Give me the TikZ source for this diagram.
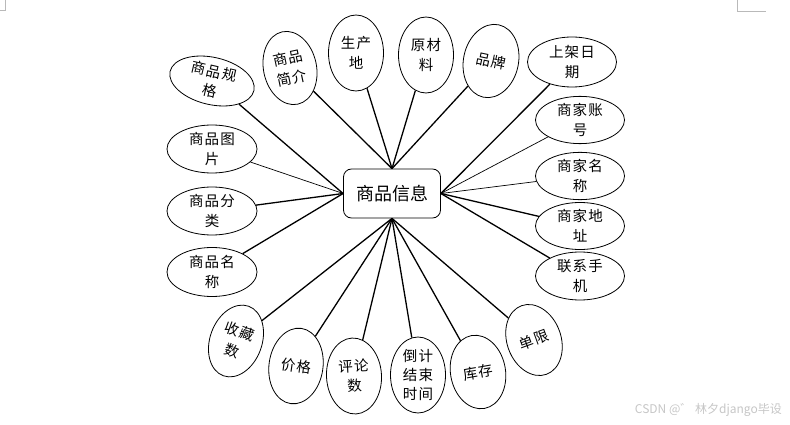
\documentclass[tikz,border=0pt]{standalone}
\usepackage{fontspec}
\newfontfamily\cjk[LetterSpace=8]{Noto Sans CJK SC}
\newfontfamily\cjkplain{Noto Sans CJK SC}
\usetikzlibrary{shapes.geometric}
\tikzset{
  attr/.style={ellipse, draw, line width=0.8pt, inner sep=0pt, align=center,
    font=\cjk\fontsize{14.5}{20}\selectfont},
  wide/.style={attr, minimum width=88pt, minimum height=48pt},
  tall/.style={attr, minimum width=55pt, minimum height=76pt},
  hubbox/.style={draw, line width=0.8pt, rounded corners=8pt, minimum width=97pt,
    minimum height=49pt, font=\cjkplain\fontsize{18}{20}\selectfont},
  thk/.style={line width=1.3pt},
  thn/.style={line width=0.7pt}
}
\begin{document}
\begin{tikzpicture}[x=1pt,y=-1pt]
\useasboundingbox (0,0) rectangle (790,425);
\draw[gray!55, line width=0.6pt] (0,10) -- (5,10) -- (5,0);
\draw[gray!55, line width=0.6pt] (737,0) -- (737,11) -- (766,11);

\node[hubbox] (hub) at (392,193.5) {商品信息};

\node[wide, minimum width=86pt, minimum height=46pt, rotate=-13] (e1) at (212,81) {商品规\\格};
\node[tall, minimum width=53pt, minimum height=74pt, rotate=12] (e2) at (290,68) {商品\\简介};
\node[tall] (e3) at (356,53) {生产\\地};
\node[tall] (e4) at (426,55) {原材\\料};
\node[tall, minimum width=55pt, minimum height=74pt, rotate=-12] (e5) at (491,61) {品牌};

\node[wide, minimum width=89pt, minimum height=50pt] (e6) at (572,62) {上架日\\期};
\node[wide, minimum width=89pt, minimum height=45pt] (e7) at (580,120) {商家账\\号};
\node[wide, minimum width=89pt, minimum height=45pt] (e8) at (580,176) {商家名\\称};
\node[wide, minimum width=89pt, minimum height=47pt] (e9) at (580,226) {商家地\\址};
\node[wide, minimum width=89pt, minimum height=48pt] (e10) at (580,276) {联系手\\机};

\node[wide, minimum width=90pt] (e11) at (212,149) {商品图\\片};
\node[wide, minimum width=90pt] (e12) at (212,211) {商品分\\类};
\node[wide, minimum width=90pt, minimum height=49pt] (e13) at (212,272) {商品名\\称};

\node[tall, minimum width=52pt, minimum height=74pt, rotate=-20] (e14) at (236,341) {收藏\\数};
\node[tall, minimum width=54pt, rotate=-8] (e15) at (296,366) {价格};
\node[tall, rotate=3] (e16) at (354,376) {评论\\数};
\node[tall, font=\cjk\fontsize{14.5}{19}\selectfont] (e17) at (418,375) {倒计\\结束\\时间};
\node[tall, minimum width=55pt, minimum height=74pt, rotate=10] (e18) at (478,372) {库存};
\node[tall, minimum width=54pt, minimum height=73pt, rotate=20] (e19) at (534,340) {单限};

\draw[thk] (e1) -- (hub.west);
\draw[thk] (e2) -- (hub.north);
\draw[thk] (e3) -- (hub.north);
\draw[thk] (e4) -- (hub.north);
\draw[thk] (e5) -- (hub.north);
\draw[thk] (e6) -- (hub.east);
\draw[thn] (e7) -- (hub.east);
\draw[thn] (e8) -- (hub.east);
\draw[thk] (e9) -- (hub.east);
\draw[thk] (e10) -- (hub.east);
\draw[thn] (e11) -- (hub.west);
\draw[thk] (e12) -- (hub.west);
\draw[thk] (e13) -- (hub.west);
\draw[thk] (e14) -- (hub.south);
\draw[thk] (e15) -- (hub.south);
\draw[thk] (e16) -- (hub.south);
\draw[thk] (e17) -- (hub.south);
\draw[thk] (e18) -- (hub.south);
\draw[thk] (e19) -- (hub.south);

\node[text=gray!45, font=\cjkplain\fontsize{12}{14}\selectfont, anchor=east, inner sep=0pt] (wm) at (782,410) {CSDN @゛ 林夕django毕设};
\end{tikzpicture}
\end{document}
